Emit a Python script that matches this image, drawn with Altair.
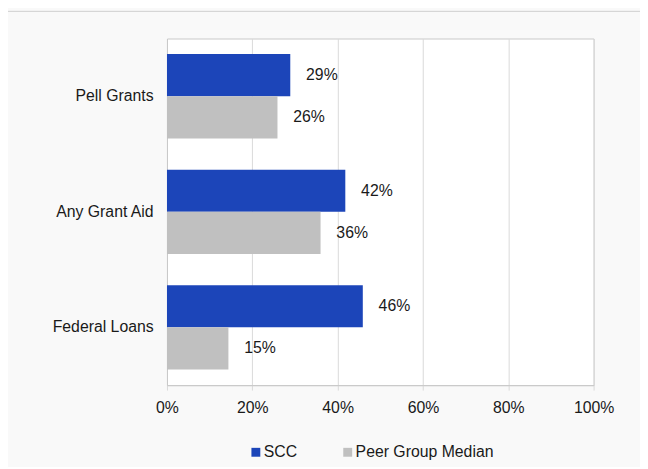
import altair as alt
import pandas as pd

categories = ["Pell Grants", "Any Grant Aid", "Federal Loans"]
series = ["SCC", "Peer Group Median"]
scc_values = [28.9, 41.8, 45.9]
peer_values = [25.9, 36.0, 14.4]
scc_labels = ["29%", "42%", "46%"]
peer_labels = ["26%", "36%", "15%"]
x_ticks = [0, 20, 40, 60, 80, 100]
colors = ["#1c45b9", "#c0c0c0"]

rows = []
for c, v, l in zip(categories, scc_values, scc_labels):
    rows.append({"Category": c, "Series": series[0], "Value": v, "Label": l})
for c, v, l in zip(categories, peer_values, peer_labels):
    rows.append({"Category": c, "Series": series[1], "Value": v, "Label": l})
df = pd.DataFrame(rows)

FONT = "Liberation Sans"

y_enc = alt.Y("Category:N", sort=categories, title=None,
              scale=alt.Scale(paddingInner=0.27, paddingOuter=0.135),
              axis=alt.Axis(ticks=False, labelPadding=14, labelFontSize=16,
                            labelFont=FONT, labelColor="#1a1a1a",
                            domainColor="#c8c8c8", labelLimit=200))
yoff = alt.YOffset("Series:N", sort=series, scale=alt.Scale(paddingInner=0, paddingOuter=0))

bars = alt.Chart(df).mark_bar().encode(
    x=alt.X("Value:Q", title=None,
            scale=alt.Scale(domain=[0, 100], nice=False),
            axis=alt.Axis(values=x_ticks, labelExpr="datum.value + '%'",
                          grid=True, gridColor="#d9d9d9", tickColor="#d9d9d9",
                          tickSize=5, labelPadding=10, labelFontSize=16,
                          labelFont=FONT, labelColor="#1a1a1a", labelFlush=False,
                          domainColor="#c8c8c8")),
    y=y_enc,
    yOffset=yoff,
    color=alt.Color("Series:N", sort=series,
                    scale=alt.Scale(domain=series, range=colors),
                    legend=alt.Legend(title=None, orient="none", direction="horizontal",
                                      legendX=82, legendY=411,
                                      symbolType="square", symbolSize=81,
                                      symbolStrokeWidth=0, labelFontSize=16,
                                      labelFont=FONT, labelColor="#1a1a1a",
                                      labelOffset=0, columnPadding=43)),
)

labels = alt.Chart(df).mark_text(align="left", baseline="middle", dx=16,
                                 fontSize=16, font=FONT, color="#1a1a1a").encode(
    x=alt.X("Value:Q"),
    y=alt.Y("Category:N", sort=categories),
    yOffset=yoff,
    text="Label:N",
)

border = alt.Chart(pd.DataFrame({"a": [0]})).mark_rule(color="#d0d0d0", strokeWidth=1).encode(
    x=alt.value(-161), x2=alt.value(481), y=alt.value(-27.5)
)

chart = alt.layer(bars, labels, border).properties(
    width=432, height=351,
    autosize=alt.AutoSizeParams(type="none"),
    padding={"left": 161, "top": 28, "right": 47, "bottom": 80},
).configure(background="#f9f9f9").configure_view(fill="white", stroke="#c8c8c8")

chart.save("out.html", embed_options={"renderer": "svg", "actions": False})
